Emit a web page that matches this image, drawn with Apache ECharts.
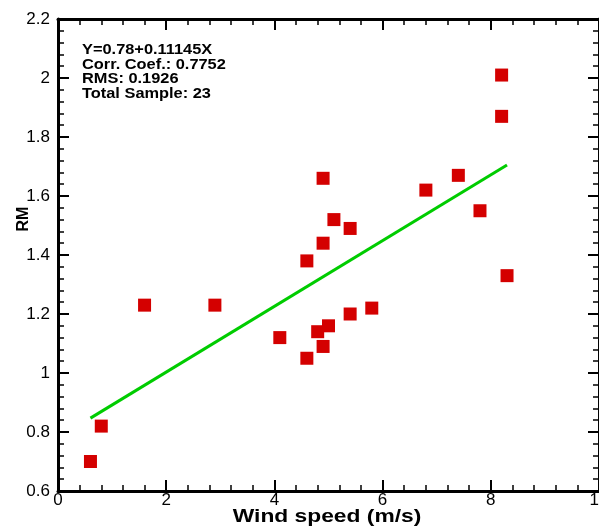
<!DOCTYPE html>
<html><head><meta charset="utf-8">
<script src="https://cdn.jsdelivr.net/npm/echarts@6/dist/echarts.min.js"></script>
<style>html,body{margin:0;padding:0;background:#fff}#c{width:599px;height:531px}</style>
</head><body><div id="c"></div>
<script>
var windSpeed = [0.6, 0.8, 1.6, 2.9, 4.1, 4.6, 4.6, 4.8, 4.9, 4.9, 4.9, 5.0, 5.1, 5.4, 5.4, 5.8, 6.8, 7.4, 7.8, 8.2, 8.2, 8.3];
var rmValues  = [0.70, 0.82, 1.23, 1.23, 1.12, 1.05, 1.38, 1.14, 1.09, 1.44, 1.66, 1.16, 1.52, 1.20, 1.49, 1.22, 1.62, 1.67, 1.55, 1.87, 2.01, 1.33];
var fitX = [0.6, 8.3];
var fitY = [0.847, 1.705];
var statsLines = ['Y=0.78+0.11145X', 'Corr. Coef.: 0.7752', 'RMS: 0.1926', 'Total Sample: 23'];
var xTitle = 'Wind speed (m/s)';
var yTitle = 'RM';

var pts = windSpeed.map(function(x, i){ return [x, rmValues[i]]; });
var fit = fitX.map(function(x, i){ return [x, fitY[i]]; });
var F = 'Liberation Sans, Arial, sans-serif';
var axLine = {show: true, onZero: false, lineStyle: {color: '#000', width: 3}};
var majT = {show: true, inside: true, length: 11, lineStyle: {color: '#000', width: 2}};
var minT = {show: true, splitNumber: 5, length: 6, lineStyle: {color: '#000', width: 1.5}};
var chart = echarts.init(document.getElementById('c'), null, {renderer: 'canvas'});
chart.setOption({
  animation: false,
  grid: {left: 58, top: 19, width: 541, height: 472, containLabel: false, outerBoundsMode: 'none'},
  xAxis: [{
    type: 'value', min: 0, max: 10, interval: 2, position: 'bottom',
    axisLine: axLine, axisTick: majT, minorTick: minT,
    axisLabel: {fontFamily: F, fontSize: 17, color: '#000', margin: 1, showMaxLabel: true},
    splitLine: {show: false}
  }, {
    type: 'value', min: 0, max: 10, interval: 2, position: 'top',
    axisLine: axLine, axisTick: majT, minorTick: minT,
    axisLabel: {show: false}, splitLine: {show: false}
  }],
  yAxis: [{
    type: 'value', min: 0.6, max: 2.2, interval: 0.2, position: 'left',
    axisLine: axLine, axisTick: majT, minorTick: minT,
    axisLabel: {fontFamily: F, fontSize: 17, color: '#000', margin: 8,
      formatter: function(v){ return String(Math.round(v*10)/10); }},
    splitLine: {show: false}
  }, {
    type: 'value', min: 0.6, max: 2.2, interval: 0.2, position: 'right',
    axisLine: axLine, axisTick: majT, minorTick: minT,
    axisLabel: {show: false}, splitLine: {show: false}
  }],
  graphic: [{
    type: 'text', x: 82, y: 43, scaleX: 1.17,
    style: {text: statsLines.join('\n'), font: 'bold 14px ' + F, fill: '#000', lineHeight: 14.5}
  }, {
    type: 'text', x: 327, y: 517, scaleX: 1.2,
    style: {text: xTitle, font: 'bold 19px ' + F, fill: '#000', align: 'center', verticalAlign: 'middle'}
  }, {
    type: 'text', x: 24, y: 219, rotation: Math.PI / 2,
    style: {text: yTitle, font: 'bold 16px ' + F, fill: '#000', align: 'center', verticalAlign: 'middle'}
  }],
  series: [{
    type: 'line', data: fit, symbol: 'none', lineStyle: {color: '#00cc00', width: 3}, z: 2
  }, {
    type: 'scatter', data: pts, symbol: 'rect', symbolSize: 13,
    itemStyle: {color: '#d40000', opacity: 1}, z: 3
  }]
});
</script></body></html>
